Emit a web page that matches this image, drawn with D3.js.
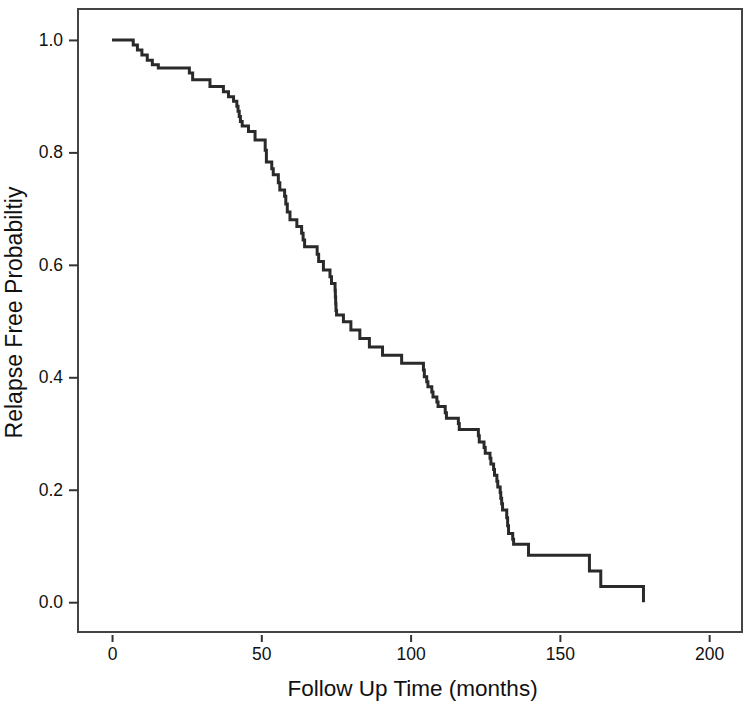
<!DOCTYPE html>
<html>
<head>
<meta charset="utf-8">
<script src="https://cdn.jsdelivr.net/npm/d3@7"></script>
<style>
  body { margin: 0; background: #fff; }
  text { font-family: "Liberation Sans", Arial, sans-serif; fill: #111; }
</style>
</head>
<body>
<div id="chart"></div>
<script>
// Kaplan-Meier step values (months, survival after the event)
var times = [0, 7.1, 8.5, 10.0, 11.8, 13.5, 15.5, 25.9, 27.0, 32.8, 37.3, 39.0, 40.7,
  41.8, 42.2, 42.6, 43.0, 43.6, 45.7, 47.9, 51.3, 51.7, 53.5, 54.0, 55.7, 56.2,
  57.8, 58.2, 58.7, 59.6, 61.9, 63.5, 64.0, 64.5, 68.7, 69.2, 70.8, 73.0, 73.5,
  74.7, 74.8, 74.9, 75.0, 75.2, 77.5, 80.0, 83.0, 86.2, 90.6, 97.0, 104.3, 104.6,
  105.4, 105.8, 107.1, 107.5, 108.8, 109.2, 111.6, 112.0, 116.0, 116.3, 122.7, 123.0,
  124.6, 125.0, 126.6, 126.9, 127.8, 128.1, 128.9, 129.2, 130.0, 130.2, 130.5, 130.8,
  132.2, 132.5, 132.8, 134.2, 134.5, 139.5, 159.9, 163.7, 178.0];
var survival = [1.0, 0.991, 0.982, 0.973, 0.964, 0.956, 0.950, 0.941, 0.929, 0.917, 0.908, 0.899, 0.891,
  0.882, 0.873, 0.864, 0.855, 0.847, 0.837, 0.822, 0.804, 0.783, 0.771, 0.760, 0.746, 0.733,
  0.722, 0.708, 0.694, 0.680, 0.668, 0.656, 0.644, 0.632, 0.619, 0.606, 0.591, 0.579, 0.567,
  0.555, 0.543, 0.531, 0.519, 0.511, 0.499, 0.484, 0.469, 0.454, 0.439, 0.425, 0.413, 0.401,
  0.392, 0.383, 0.374, 0.365, 0.356, 0.348, 0.337, 0.327, 0.318, 0.307, 0.296, 0.285,
  0.275, 0.265, 0.256, 0.246, 0.236, 0.226, 0.215, 0.205, 0.195, 0.185, 0.175, 0.164,
  0.150, 0.136, 0.122, 0.112, 0.103, 0.0836, 0.0557, 0.0279, 0.0];

var xTicks = [0, 50, 100, 150, 200];
var yTicks = [0.0, 0.2, 0.4, 0.6, 0.8, 1.0];

var data = times.map(function (t, i) { return { t: t, s: survival[i] }; });

var margin = { top: 9, right: 8, bottom: 72, left: 78 },
    width = 750 - margin.left - margin.right,
    height = 704 - margin.top - margin.bottom;

var svg = d3.select("#chart")
    .append("svg")
    .attr("width", 750)
    .attr("height", 704)
    .append("g")
    .attr("transform", "translate(" + margin.left + "," + margin.top + ")");

var x = d3.scaleLinear()
    .domain([-11.4, 211.0])
    .range([0, width]);

var y = d3.scaleLinear()
    .domain([-0.053, 1.055])
    .range([height, 0]);

// frame
svg.append("rect")
    .attr("x", 0)
    .attr("y", 0)
    .attr("width", width)
    .attr("height", height)
    .attr("fill", "none")
    .attr("stroke", "#444")
    .attr("stroke-width", 2);

// x axis (ticks sit just below the frame)
var xAxis = svg.append("g")
    .attr("transform", "translate(0," + (height + 3) + ")")
    .call(d3.axisBottom(x).tickValues(xTicks).tickSize(7).tickPadding(6));
xAxis.select(".domain").remove();
xAxis.selectAll("line").attr("stroke", "#333").attr("stroke-width", 2);
xAxis.selectAll("text").style("font-size", "17.5px")
    .style("font-family", "'Liberation Sans', Arial, sans-serif").attr("fill", "#111");

// y axis
var yAxis = svg.append("g")
    .call(d3.axisLeft(y).tickValues(yTicks).tickSize(9).tickPadding(6)
        .tickFormat(d3.format(".1f")));
yAxis.select(".domain").remove();
yAxis.selectAll("line").attr("stroke", "#333").attr("stroke-width", 2);
yAxis.selectAll("text").style("font-size", "17.5px")
    .style("font-family", "'Liberation Sans', Arial, sans-serif").attr("fill", "#111");

// survival curve
var line = d3.line()
    .curve(d3.curveStepAfter)
    .x(function (d) { return x(d.t); })
    .y(function (d) { return y(d.s); });

svg.append("path")
    .datum(data)
    .attr("d", line)
    .attr("fill", "none")
    .attr("stroke", "#2a2a2a")
    .attr("stroke-width", 3);

// axis titles
svg.append("text")
    .attr("x", x(100) + 2)
    .attr("y", height + 64)
    .attr("text-anchor", "middle")
    .style("font-size", "22.5px")
    .text("Follow Up Time (months)");

svg.append("text")
    .attr("transform", "rotate(-90)")
    .attr("x", -height / 2 + 8)
    .attr("y", -margin.left + 22)
    .attr("text-anchor", "middle")
    .style("font-size", "23px")
    .text("Relapse Free Probabiltiy");
</script>
</body>
</html>
